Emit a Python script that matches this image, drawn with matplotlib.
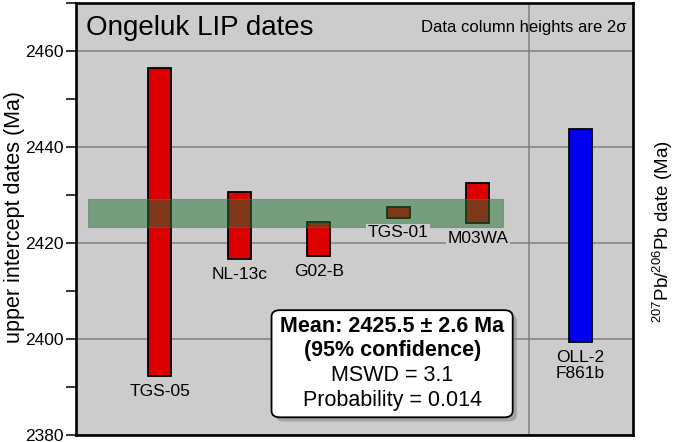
import matplotlib.pyplot as plt
import matplotlib.patheffects as pe
from matplotlib.patches import FancyBboxPatch
from matplotlib.ticker import MultipleLocator

plt.rcParams['font.family'] = ['Liberation Sans', 'DejaVu Sans']
plt.rcParams['mathtext.fontset'] = 'custom'
plt.rcParams['mathtext.rm'] = 'Liberation Sans'

# sample dates, 2 sigma ranges (Ma)
samples = ["TGS-05", "NL-13c", "G02-B", "TGS-01", "M03WA", "OLL-2\nF861b"]
positions = [1, 2, 3, 4, 5, 6.29]
lows = [2392.3, 2416.7, 2417.3, 2425.3, 2424.1, 2399.4]
highs = [2456.5, 2430.6, 2424.4, 2427.6, 2432.5, 2443.75]
colors = ["#dd0000"] * 5 + ["#0000ee"]

# weighted mean band
band_low, band_high = 2423.4, 2429.1
band_x = (0.10, 5.316)
divider_x = 5.643

stats_bold = ["Mean: 2425.5 ± 2.6 Ma", "(95% confidence)"]
stats_plain = ["MSWD = 3.1", "Probability = 0.014"]

fig = plt.figure(figsize=(6.77, 4.42), dpi=100)
ax = fig.add_axes([0.1123, 0.0158, 0.8227, 0.9774])
ax.set_facecolor('#cccccc')
ax.set_xlim(-0.05, 6.95)
ax.set_ylim(2380, 2470)

ax.yaxis.set_major_locator(MultipleLocator(20))
ax.yaxis.set_minor_locator(MultipleLocator(10))
ax.grid(True, axis='y', which='major', color='#808080', linewidth=1.1, zorder=0)
ax.set_axisbelow(True)
ax.axvline(divider_x, color='#808080', linewidth=1.1, zorder=0.5)
ax.set_xticks([])
ax.tick_params(axis='y', which='both', direction='out', length=7, width=1.1,
               labelsize=12.5, pad=2)
for s in ax.spines.values():
    s.set_linewidth(1.9)

heights = [h - l for h, l in zip(highs, lows)]
ax.bar(positions, heights, bottom=lows, width=0.29, color=colors,
       edgecolor='black', linewidth=1.3, zorder=2)

ax.fill_between(band_x, band_low, band_high, color='#236f34', alpha=0.5,
                edgecolor='#5a7060', linewidth=0.8, zorder=3)

for x, lo, name in zip(positions, lows, samples):
    ax.text(x, lo - 1.6, name, ha='center', va='top', fontsize=12.5,
            linespacing=1.15, zorder=4,
            bbox=dict(facecolor='#cccccc', edgecolor='none', pad=1.2))

ax.text(0.018, 0.926, "Ongeluk LIP dates", transform=ax.transAxes,
        fontsize=20, ha='left', va='baseline')
ax.text(0.989, 0.933, "Data column heights are 2σ", transform=ax.transAxes,
        fontsize=12, ha='right', va='baseline')

# statistics box with drop shadow
box = FancyBboxPatch((0.355, 0.045), 0.425, 0.24, transform=ax.transAxes,
                     boxstyle='round,pad=0.004,rounding_size=0.015',
                     facecolor='white', edgecolor='black', linewidth=1.3,
                     zorder=5)
box.set_path_effects([
    pe.SimplePatchShadow(offset=(3, -3), shadow_rgbFace='#888888', alpha=0.6),
    pe.Normal()])
ax.add_patch(box)
line_y = [0.252, 0.1955, 0.138, 0.080]
for y, s in zip(line_y[:2], stats_bold):
    ax.text(0.568, y, s, transform=ax.transAxes, fontsize=15.5,
            fontweight='bold', ha='center', va='center', zorder=6)
for y, s in zip(line_y[2:], stats_plain):
    ax.text(0.568, y, s, transform=ax.transAxes, fontsize=15.5,
            ha='center', va='center', zorder=6)

fig.text(0.021, 0.51, "upper intercept dates (Ma)", rotation=90,
         ha='center', va='center', fontsize=15.5)
fig.text(0.979, 0.475, r"$^{207}$Pb/$^{206}$Pb date (Ma)", rotation=90,
         ha='center', va='center', fontsize=13.5)

fig.savefig('out.png', dpi=100)
